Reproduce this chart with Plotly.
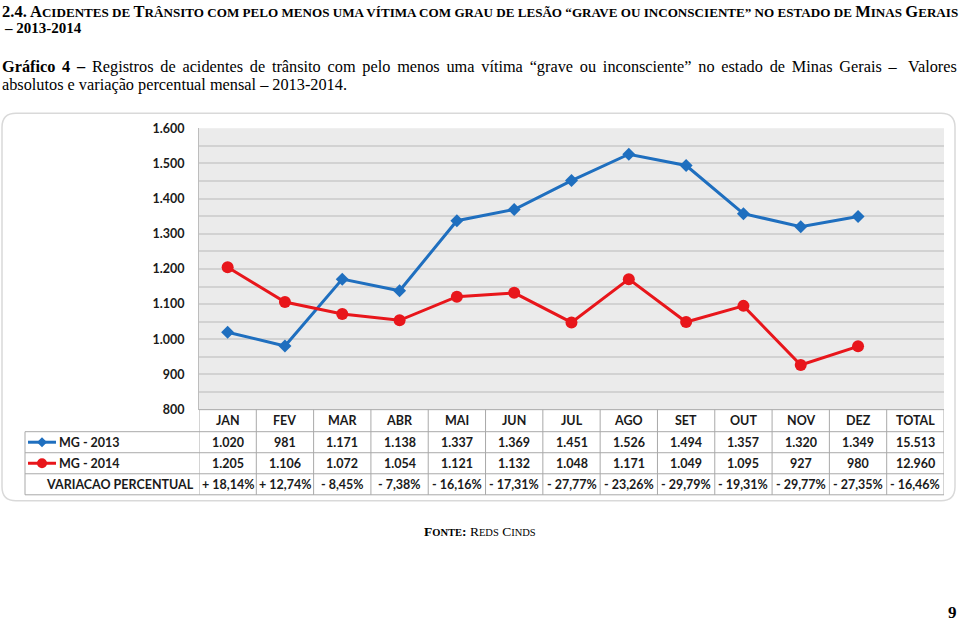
import plotly.graph_objects as go

W, H = 960, 621

months = ["JAN", "FEV", "MAR", "ABR", "MAI", "JUN", "JUL", "AGO", "SET", "OUT", "NOV", "DEZ"]
table_cols = months + ["TOTAL"]
mg2013 = [1020, 981, 1171, 1138, 1337, 1369, 1451, 1526, 1494, 1357, 1320, 1349]
mg2014 = [1205, 1106, 1072, 1054, 1121, 1132, 1048, 1171, 1049, 1095, 927, 980]
total2013 = 15513
total2014 = 12960
variacao = [18.14, 12.74, -8.45, -7.38, -16.16, -17.31, -27.77, -23.26, -29.79, -19.31, -29.77, -27.35, -16.46]
ytick_vals = [800, 900, 1000, 1100, 1200, 1300, 1400, 1500, 1600]
ytick_text = ["800", "900", "1.000", "1.100", "1.200", "1.300", "1.400", "1.500", "1.600"]
series_names = ["MG - 2013", "MG - 2014", "VARIACAO PERCENTUAL"]

BLUE = "#1f6fbf"
RED = "#e8161b"
TXT = "#1a1a1a"
GRID = "#d2d2d2"
TLINE = "#a9a9a9"
SIXTH = "\u2006"

# observed effective drawing area of the page (vertical)
OFF_Y, H_EFF = 8, 605


def px_x(p):
    return p / W


def px_y(p):
    return 1 - (p - OFF_Y) / H_EFF


def fmt(v):
    return f"{v:,}".replace(",", ".")


def fmt_pct(v):
    sign = "+" if v >= 0 else "-"
    return f"{sign} {abs(v):.2f}%".replace(".", ",")


PLOT_L, PLOT_R, PLOT_T, PLOT_B = 199, 944, 128, 409

fig = go.Figure()
fig.add_trace(go.Scatter(
    x=months, y=mg2013, mode="lines+markers", name=series_names[0],
    line=dict(color=BLUE, width=3),
    marker=dict(symbol="diamond", size=10, color=BLUE),
))
fig.add_trace(go.Scatter(
    x=months, y=mg2014, mode="lines+markers", name=series_names[1],
    line=dict(color=RED, width=3),
    marker=dict(symbol="circle", size=12, color=RED),
))

fig.update_layout(
    width=W, height=H,
    margin=dict(l=0, r=0, t=0, b=0),
    paper_bgcolor="white",
    plot_bgcolor="#ebebeb",
    showlegend=False,
    xaxis=dict(
        domain=[px_x(PLOT_L), px_x(PLOT_R)],
        type="category", categoryorder="array", categoryarray=table_cols,
        range=[-0.5, len(table_cols) - 0.5],
        showticklabels=False, showgrid=False, zeroline=False,
        showline=False, fixedrange=True,
    ),
    yaxis=dict(
        domain=[px_y(PLOT_B), px_y(PLOT_T)],
        range=[800, 1600],
        tickvals=ytick_vals, ticktext=ytick_text,
        tickfont=dict(family="Lato", size=12.5, color=TXT, weight="bold"),
        ticks="", ticklabelstandoff=11,
        showgrid=True, gridcolor=GRID, gridwidth=1.5,
        minor=dict(dtick=50, showgrid=True, gridcolor=GRID, gridwidth=1.5),
        showline=True, linecolor="#bdbdbd", linewidth=1,
        zeroline=False, fixedrange=True,
    ),
)

shapes = []
ann = []

# outer chart border (rounded)
x0, y0, x1, y1, r = 2, 113, 955, 500, 14
path = (f"M {x0+r},{y0} L {x1-r},{y0} Q {x1},{y0} {x1},{y0+r} L {x1},{y1-r} Q {x1},{y1} {x1-r},{y1} "
        f"L {x0+r},{y1} Q {x0},{y1} {x0},{y1-r} L {x0},{y0+r} Q {x0},{y0} {x0+r},{y0} Z")


def pth(p):
    out = []
    for t in p.split():
        if "," in t:
            a, b = t.split(",")
            out.append(f"{px_x(float(a)):.5f},{px_y(float(b)):.5f}")
        else:
            out.append(t)
    return " ".join(out)


shapes.append(dict(type="path", xref="paper", yref="paper", path=pth(path),
                   line=dict(color="#d9d9d9", width=1.5), layer="below"))

# data table
row_bounds = [409, 431, 452, 473, 494]
row_centers = [420, 441.5, 462.5, 483.5]
TABLE_L = 25
for i in range(len(table_cols) + 1):
    shapes.append(dict(type="line", xref="x", yref="paper", x0=i - 0.5, x1=i - 0.5,
                       y0=px_y(row_bounds[0]), y1=px_y(row_bounds[-1]),
                       line=dict(color=TLINE, width=1)))
shapes.append(dict(type="line", xref="paper", yref="paper", x0=px_x(PLOT_L), x1=px_x(PLOT_R),
                   y0=px_y(row_bounds[0]), y1=px_y(row_bounds[0]), line=dict(color=TLINE, width=1)))
for yb in row_bounds[1:]:
    shapes.append(dict(type="line", xref="paper", yref="paper", x0=px_x(TABLE_L), x1=px_x(PLOT_R),
                       y0=px_y(yb), y1=px_y(yb), line=dict(color=TLINE, width=1)))
shapes.append(dict(type="line", xref="paper", yref="paper", x0=px_x(TABLE_L), x1=px_x(TABLE_L),
                   y0=px_y(row_bounds[1]), y1=px_y(row_bounds[-1]), line=dict(color=TLINE, width=1)))

cell_font = dict(family="Lato", size=12.5, color=TXT, weight="bold")
row2013 = [fmt(v) for v in mg2013] + [fmt(total2013)]
row2014 = [fmt(v) for v in mg2014] + [fmt(total2014)]
rowpct = [fmt_pct(v) for v in variacao]
for j, col in enumerate(table_cols):
    for rc, txt in zip(row_centers, [col, row2013[j], row2014[j], rowpct[j]]):
        ann.append(dict(x=col, y=px_y(rc), xref="x", yref="paper", text=txt, showarrow=False,
                        xanchor="center", yanchor="middle", font=cell_font))

# legend keys inside table
for k, (color, yc) in enumerate([(BLUE, row_centers[1]), (RED, row_centers[2])]):
    shapes.append(dict(type="line", xref="paper", yref="paper", x0=px_x(28), x1=px_x(56),
                       y0=px_y(yc), y1=px_y(yc), line=dict(color=color, width=3)))
    cx = 42
    if k == 0:
        d = 5
        p = f"M {cx},{yc-d} L {cx+d},{yc} L {cx},{yc+d} L {cx-d},{yc} Z"
        shapes.append(dict(type="path", xref="paper", yref="paper", path=pth(p),
                           fillcolor=color, line=dict(color=color, width=0)))
    else:
        rr = 5
        shapes.append(dict(type="circle", xref="paper", yref="paper", x0=px_x(cx - rr), x1=px_x(cx + rr),
                           y0=px_y(yc + rr), y1=px_y(yc - rr), fillcolor=color, line=dict(color=color, width=0)))
    ann.append(dict(x=px_x(57), y=px_y(yc), xref="paper", yref="paper", text=series_names[k],
                    showarrow=False, xanchor="left", yanchor="middle", font=cell_font))
ann.append(dict(x=px_x(196), y=px_y(row_centers[3]), xref="paper", yref="paper", text=series_names[2],
                showarrow=False, xanchor="right", yanchor="middle", font=cell_font))

# header texts
serif = "Liberation Serif"
BIG, SM = 16.5, 13.1


def sc(s, size=SM):
    return f'<span style="font-size:{size}px">{s}</span>'


title1 = ("2.4. A" + sc("CIDENTES DE ") + "T" +
          sc("RÂNSITO COM PELO MENOS UMA VÍTIMA COM GRAU DE LESÃO “GRAVE OU INCONSCIENTE” NO ESTADO DE ") +
          "M" + sc("INAS ") + "G" + sc("ERAIS"))
ann.append(dict(x=0, y=px_y(11), xref="paper", yref="paper", text="<b>" + title1 + "</b>", showarrow=False,
                xanchor="left", yanchor="middle", font=dict(family=serif, size=BIG, color="black")))
ann.append(dict(x=px_x(2), y=px_y(28), xref="paper", yref="paper", text="<b>– 2013-2014</b>", showarrow=False,
                xanchor="left", yanchor="middle", font=dict(family=serif, size=15, color="black")))

FS = 16.3
words3 = ["<b>Gráfico", "4", "–</b>", "Registros", "de", "acidentes", "de", "trânsito", "com", "pelo",
          "menos", "uma", "vítima", "“grave", "ou", "inconsciente”", "no", "estado", "de", "Minas", "Gerais", "–"]
line3 = (" " + SIXTH).join(words3)
ann.append(dict(x=0, y=px_y(66), xref="paper", yref="paper", text=line3, showarrow=False,
                xanchor="left", yanchor="middle", font=dict(family=serif, size=FS, color="black")))
ann.append(dict(x=px_x(959), y=px_y(66), xref="paper", yref="paper", text="Valores", showarrow=False,
                xanchor="right", yanchor="middle", font=dict(family=serif, size=FS, color="black")))
ann.append(dict(x=0, y=px_y(84), xref="paper", yref="paper",
                text="absolutos e variação percentual mensal – 2013-2014.", showarrow=False,
                xanchor="left", yanchor="middle", font=dict(family=serif, size=FS, color="black")))

fonte = ("<b>F" + sc("ONTE", 10.5) + ":</b> R" + sc("EDS", 10.5) + " C" + sc("INDS", 10.5))
ann.append(dict(x=px_x(480), y=px_y(531), xref="paper", yref="paper", text=fonte, showarrow=False,
                xanchor="center", yanchor="middle", font=dict(family=serif, size=13.5, color="black")))
ann.append(dict(x=px_x(959), y=px_y(612), xref="paper", yref="paper", text="<b>9</b>", showarrow=False,
                xanchor="right", yanchor="middle", font=dict(family=serif, size=17, color="black")))

fig.update_layout(shapes=shapes, annotations=ann)
fig.write_html("out.html", config={"displayModeBar": False},
               post_script="document.body.style.margin='0';document.body.style.overflow='hidden';")
